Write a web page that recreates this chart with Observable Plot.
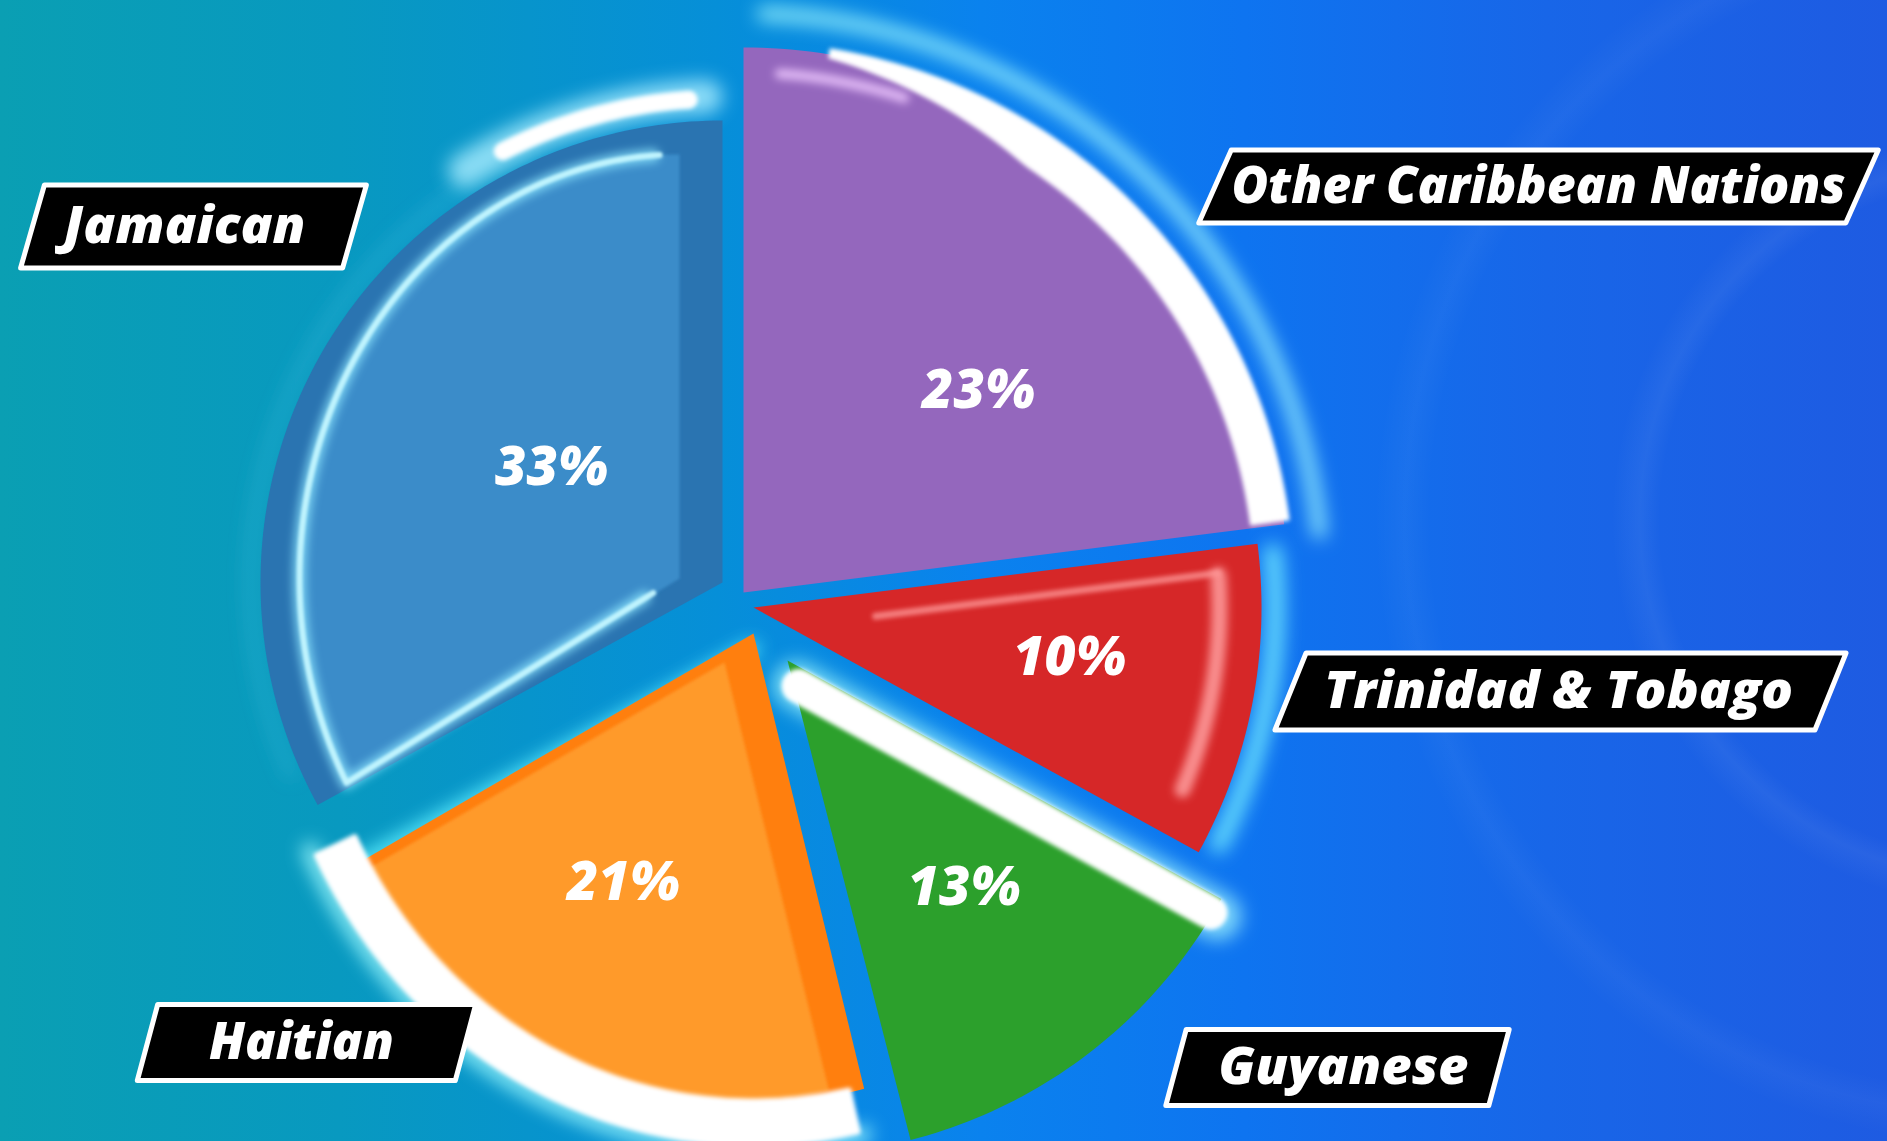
<!DOCTYPE html>
<html>
<head>
<meta charset="utf-8">
<script src="https://cdn.jsdelivr.net/npm/d3@7"></script>
<script src="https://cdn.jsdelivr.net/npm/@observablehq/plot@0.6"></script>
<style>
  html, body { margin: 0; padding: 0; width: 1887px; height: 1141px; overflow: hidden; }
  body {
    background:
      radial-gradient(circle at 2000px 520px, rgba(255,255,255,0) 340px, rgba(255,255,255,0.05) 360px, rgba(255,255,255,0) 388px),
      radial-gradient(circle at 2000px 520px, rgba(255,255,255,0) 570px, rgba(255,255,255,0.035) 595px, rgba(255,255,255,0) 625px),
      linear-gradient(90deg, #0a9fb3 0%, #0899c0 18%, #068fd8 38%, #0a82ee 52%, #0e74f0 66%, #1866e8 82%, #1e5be2 100%);
  }
  #chart svg { display: block; }
</style>
</head>
<body>
<div id="chart"></div>
<script>
// ---------------- DATA ----------------
const categories = ["Other Caribbean Nations", "Trinidad & Tobago", "Guyanese", "Haitian", "Jamaican"];
const shares = [23, 10, 13, 21, 33];

// ---------------- STYLE ----------------
const faceColors = ["#9467bd", "#d62728", "#2ca02c", "#ff9a2c", "#3a8cc9"];
const rimColors  = ["#9467bd", "#d62728", "#2ca02c", "#ff7f0e", "#2a74b1"];

// ---------------- LAYOUT (pixels) ----------------
const W = 1887, H = 1141, PX = 500, CX = 750, CY = 610;
const sliceLayout = [
  { ax: 743, ay: 592, rx: 545, ry: 545, labelR: 310, labelTurn: 7.9 },
  { ax: 753, ay: 607, rx: 508, ry: 508, labelR: 320, labelTurn: -1.8 },
  { ax: 787, ay: 660, rx: 495, ry: 495, labelR: 288, labelTurn: 0 },
  { ax: 753, ay: 633, rx: 445, ry: 470, labelR: 281, labelTurn: 4.2 },
  { ax: 722, ay: 582, rx: 462, ry: 462, labelR: 206, labelTurn: 3.3 }
];
const faceLayout = [null, null, null,
  { ax: 724, ay: 662, rx: 420, ry: 442 },
  { ax: 679, ay: 578, rx: 380, ry: 424 }
];
const labelBoxes = [
  { cx: 1538, cy: 186, w: 652, h: 78, skew: 24, tw: 614, tdx: 0 },
  { cx: 1560, cy: 691, w: 545, h: 82, skew: 22, tw: 469, tdx: -2 },
  { cx: 1337, cy: 1067, w: 328, h: 81, skew: 15, tw: 250, tdx: 6 },
  { cx: 306, cy: 1042, w: 323, h: 81, skew: 15, tw: 185, tdx: -5 },
  { cx: 193, cy: 226, w: 327, h: 88, skew: 16, tw: 242, tdx: -9 }
];

// ---------------- GEOMETRY ----------------
const slices = categories.map((name, i) => ({ name, value: shares[i] }));
const A = d3.pie().value(d => d.value).sort(null)(slices).map((a, i) => ({
  ...a.data, i,
  d0: a.startAngle * 180 / Math.PI,
  d1: a.endAngle * 180 / Math.PI,
  mid: (a.startAngle + a.endAngle) * 90 / Math.PI
}));
const rad = d => d * Math.PI / 180;
const toData = ([px, py]) => ({ x: (px - CX) / PX, y: (CY - py) / PX });
const P = (ax, ay, rx, ry, d) => [ax + rx * Math.sin(rad(d)), ay - ry * Math.cos(rad(d))];

function arcPts(id, ax, ay, rx, ry, d0, d1) {
  const n = Math.max(4, Math.ceil(Math.abs(d1 - d0)));
  const out = [];
  for (let k = 0; k <= n; k++) out.push({ id, ...toData(P(ax, ay, rx, ry, d0 + (d1 - d0) * k / n)) });
  return out;
}
function wedgePts(id, ax, ay, rx, ry, d0, d1, fill) {
  return [{ id, ...toData([ax, ay]) }, ...arcPts(id, ax, ay, rx, ry, d0, d1)].map(p => ({ ...p, fill }));
}
function bandPts(id, ax, ay, rx, ry, inner, outer, d0, d1) {
  const n = Math.ceil(Math.abs(d1 - d0));
  const o = [], r = [];
  for (let k = 0; k <= n; k++) {
    const t = k / n, d = d0 + (d1 - d0) * t;
    o.push({ id, ...toData(P(ax, ay, rx + outer(t), ry + outer(t), d)) });
    r.push({ id, ...toData(P(ax, ay, rx + inner(t), ry + inner(t), d)) });
  }
  return o.concat(r.reverse());
}
function edgePts(id, ax, ay, d, s0, s1, off) {
  const a = rad(d);
  const f = s => toData([ax + s * Math.sin(a) + off * Math.cos(a), ay - s * Math.cos(a) + off * Math.sin(a)]);
  return [{ id, ...f(s0) }, { id, ...f(s1) }];
}

const rimPts = A.flatMap(s => {
  const L = sliceLayout[s.i];
  return wedgePts("rim" + s.i, L.ax, L.ay, L.rx, L.ry, s.d0, s.d1, rimColors[s.i]);
});
const facePts = A.flatMap(s => {
  const F = faceLayout[s.i];
  return F ? wedgePts("face" + s.i, F.ax, F.ay, F.rx, F.ry, s.d0, s.d1, faceColors[s.i]) : [];
});

const S = A.map(s => ({ ...s, L: sliceLayout[s.i] }));
const [oth, tri, guy, hai, jam] = S;
const jf = faceLayout[4];

const glowSpecs = [
  { pts: arcPts("g1", oth.L.ax, oth.L.ay, oth.L.rx + 34, oth.L.ry + 34, 2, 84), stroke: "#9ef8ff", w: 14, o: 0.85 },
  { pts: arcPts("g2", tri.L.ax, tri.L.ay, tri.L.rx + 14, tri.L.ry + 14, 84, 117), stroke: "#6fe8ff", w: 18, o: 0.9 },
  { pts: arcPts("g3", hai.L.ax, hai.L.ay, hai.L.rx + 44, hai.L.ry + 44, 167, 245), stroke: "#a0fbff", w: 16, o: 0.9 },
  { pts: arcPts("g4", jam.L.ax, jam.L.ay, jam.L.rx + 10, jam.L.ry + 10, 246, 336), stroke: "#3fc0e0", w: 8, o: 0.5 },
  { pts: edgePts("g5", guy.L.ax, guy.L.ay, guy.d0, 20, 500, 17), stroke: "#aaffff", w: 48, o: 0.7 },
  { pts: arcPts("g6", jam.L.ax, jam.L.ay, jam.L.rx + 24, jam.L.ry + 24, 328, 358), stroke: "#aaeeff", w: 34, o: 0.8 },
  { pts: edgePts("g7", hai.L.ax, hai.L.ay, hai.d1, 10, 470, -13), stroke: "#60f0ff", w: 16, o: 0.95 },
  { pts: [...edgePts("g8", jf.ax, jf.ay, jam.d0, 40, 0, 0).slice(0, 1), ...arcPts("g8", jf.ax, jf.ay, jf.rx, jf.ry, jam.d0, jam.d1 - 4)], stroke: "#8fe8ff", w: 14, o: 0.7 }
];

const purpleBand = bandPts("w1", oth.L.ax, oth.L.ay, oth.L.rx, oth.L.ry, t => -4 - 30 * Math.min(1, t * 3), t => 6, 9, oth.d1 - 0.3);
const orangeBand = bandPts("w2", hai.L.ax, hai.L.ay, hai.L.rx, hai.L.ry, t => -2, t => 40, hai.d0 + 2, hai.d1 + 3);
const greenBand = edgePts("w3", guy.L.ax, guy.L.ay, guy.d0, 22, 492, 17);
const jamTop = arcPts("w4", jam.L.ax, jam.L.ay, jam.L.rx + 22, jam.L.ry + 22, 333, 356);

const jamHighlight = [
  ...edgePts("h1", jf.ax, jf.ay, jam.d0, 30, 0, 0).slice(0, 1),
  ...arcPts("h1", jf.ax, jf.ay, jf.rx, jf.ry, jam.d0, jam.d1 - 3)
];
const redArcHi = arcPts("h2", tri.L.ax, tri.L.ay, tri.L.rx - 42, tri.L.ry - 42, 86, 113);
const redTopHi = edgePts("h3", tri.L.ax, tri.L.ay, tri.d0, 120, 465, 24);
const purpleStreak = arcPts("h4", oth.L.ax, oth.L.ay, 520, 520, 4, 18);

const pctData = S.map(s => {
  const [px, py] = P(s.L.ax, s.L.ay, s.L.labelR, s.L.labelR, s.mid + s.L.labelTurn);
  return { ...toData([px, py]), text: s.value + "%" };
});

const boxPts = categories.flatMap((name, i) => {
  const b = labelBoxes[i];
  const w = b.w - 5, h = b.h - 5;
  const t = Math.tan(rad(b.skew)) * h / 2;
  return [[b.cx - w / 2 + t, b.cy - h / 2], [b.cx + w / 2 + t, b.cy - h / 2],
          [b.cx + w / 2 - t, b.cy + h / 2], [b.cx - w / 2 - t, b.cy + h / 2]]
    .map(p => ({ id: name, ...toData(p) }));
});
const nameData = categories.map((name, i) => ({ name, ...toData([labelBoxes[i].cx + labelBoxes[i].tdx, labelBoxes[i].cy]) }));

const font = "'Open Sans', 'Noto Sans', sans-serif";
const xy = { x: "x", y: "y" };

const chart = Plot.plot({
  width: W, height: H, margin: 0,
  x: { domain: [(0 - CX) / PX, (W - CX) / PX], axis: null },
  y: { domain: [(CY - H) / PX, CY / PX], axis: null },
  color: { type: "identity" },
  style: { background: "transparent", overflow: "visible" },
  marks: [
    ...glowSpecs.slice(0, 7).map(g => Plot.line(g.pts, { ...xy, z: "id", stroke: g.stroke, strokeWidth: g.w, strokeOpacity: g.o, strokeLinecap: "round", ariaDescription: "blur8" })),
    Plot.line(rimPts, { ...xy, z: "id", fill: "fill", stroke: "none", curve: "linear-closed" }),
    Plot.line(facePts, { ...xy, z: "id", fill: "fill", stroke: "none", curve: "linear-closed", ariaDescription: "blur1" }),
    Plot.line(glowSpecs[7].pts, { ...xy, z: "id", stroke: glowSpecs[7].stroke, strokeWidth: glowSpecs[7].w, strokeOpacity: glowSpecs[7].o, strokeLinecap: "round", ariaDescription: "blur3" }),
    Plot.line(purpleBand, { ...xy, z: "id", fill: "white", stroke: "none", curve: "linear-closed", ariaDescription: "blur2" }),
    Plot.line(orangeBand, { ...xy, z: "id", fill: "white", stroke: "white", strokeWidth: 6, strokeLinejoin: "round", curve: "linear-closed", ariaDescription: "blur2" }),
    Plot.line(greenBand, { ...xy, z: "id", stroke: "white", strokeWidth: 34, ariaDescription: "blur2" }),
    Plot.line(jamTop, { ...xy, z: "id", stroke: "white", strokeWidth: 18, strokeLinecap: "round", ariaDescription: "blur2" }),
    Plot.line(jamHighlight, { ...xy, z: "id", stroke: "#c4f7ff", strokeWidth: 6, strokeOpacity: 0.95, strokeLinecap: "round", ariaDescription: "blur1" }),
    Plot.line(redArcHi, { ...xy, z: "id", stroke: "#ffa0a0", strokeWidth: 16, strokeOpacity: 0.85, strokeLinecap: "round", ariaDescription: "blur3" }),
    Plot.line(redTopHi, { ...xy, z: "id", stroke: "#ff9a9a", strokeWidth: 7, strokeOpacity: 0.75, strokeLinecap: "round", ariaDescription: "blur2" }),
    Plot.line(purpleStreak, { ...xy, z: "id", stroke: "#efc8ff", strokeWidth: 10, strokeOpacity: 0.85, strokeLinecap: "round", ariaDescription: "blur3" }),
    Plot.text(pctData, { ...xy, text: "text", fill: "white", fontSize: 54, fontWeight: 800, fontStyle: "italic", fontFamily: font }),
    Plot.line(boxPts, { ...xy, z: "id", fill: "black", stroke: "white", strokeWidth: 5, strokeLinejoin: "round", curve: "linear-closed" }),
    Plot.text(nameData, { ...xy, text: "name", fill: "white", fontSize: 51, fontWeight: 800, fontStyle: "italic", fontFamily: font, ariaDescription: "name-text" })
  ]
});

const svg = d3.select(chart.tagName.toLowerCase() === "svg" ? chart : chart.querySelector("svg"));
const defs = svg.insert("defs", ":first-child");
[["blur1", 1.5], ["blur2", 2.2], ["blur3", 4], ["blur8", 9]].forEach(([id, sd]) => {
  defs.append("filter").attr("id", id).attr("filterUnits", "userSpaceOnUse")
    .attr("x", -100).attr("y", -100).attr("width", W + 200).attr("height", H + 200)
    .append("feGaussianBlur").attr("stdDeviation", sd);
  svg.selectAll(`g[aria-description='${id}']`).attr("filter", `url(#${id})`);
});
svg.selectAll("g[aria-description='name-text'] text").each(function (d, i) {
  this.setAttribute("textLength", labelBoxes[i].tw);
  this.setAttribute("lengthAdjust", "spacingAndGlyphs");
});

document.getElementById("chart").appendChild(chart);
</script>
</body>
</html>
